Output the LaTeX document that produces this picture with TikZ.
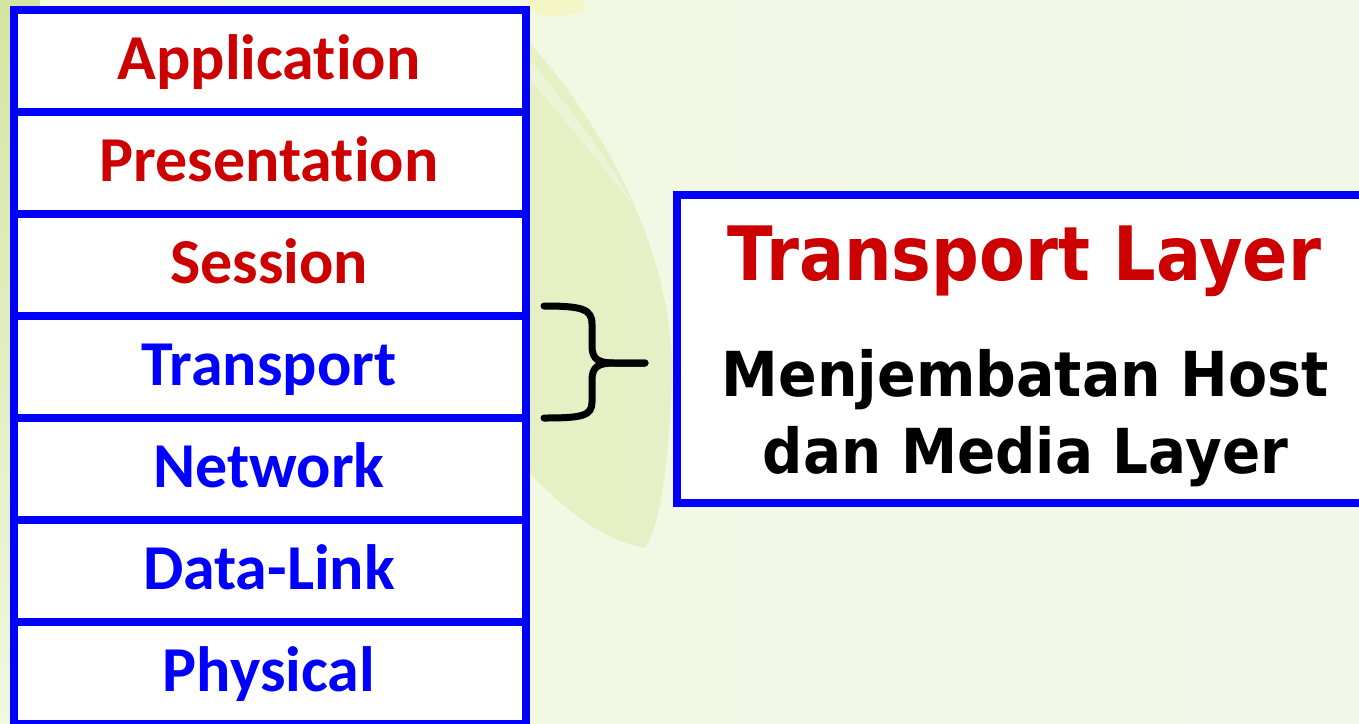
\documentclass[tikz,border=0pt]{standalone}
\usepackage{fontspec}
\usepackage{graphicx}
\setmainfont{Carlito}[Ligatures={NoCommon,NoContextual}]
\newfontfamily\headfont{DejaVu Sans}
\definecolor{layerblue}{HTML}{0000FF}
\definecolor{layerred}{HTML}{CC0000}
\definecolor{bgpale}{HTML}{F1F7E0}
\definecolor{bgcream}{HTML}{F4F8DE}
\definecolor{bgmint}{HTML}{F1F8EA}
\definecolor{leafgreen}{HTML}{DCEAAE}
\definecolor{leafedge}{HTML}{D3E5A2}
\tikzset{
  layerbox/.style={draw=layerblue, line width=8pt, fill=white,
    minimum width=512.5pt, minimum height=102pt, inner sep=0pt},
  layertext/.style={anchor=base, inner sep=0pt,
    font=\fontsize{64}{64}\selectfont\bfseries},
  infobox/.style={draw=layerblue, line width=8pt, fill=white,
    minimum width=698pt, minimum height=308pt, inner sep=0pt},
  infotext/.style={anchor=base, inner sep=0pt},
  brace/.style={draw=black, line width=7pt, line cap=round, line join=round}
}
\begin{document}
\begin{tikzpicture}[x=1pt,y=-1pt]
\useasboundingbox (0,0) rectangle (1359,723);
% pale slide background
\shade[left color=bgcream, right color=bgmint] (0,0) rectangle (1359,723);
\shade[top color=leafedge, bottom color=bgpale] (0,0) rectangle (40,723);
% soft leaf behind the layers
\fill[leafgreen, opacity=0.55]
  (527,40) .. controls (600,120) and (675,250) .. (672,380)
  .. controls (668,470) and (660,525) .. (645,548)
  .. controls (600,540) and (560,505) .. (527,470) -- cycle;
\fill[white, opacity=0.3]
  (530,60) .. controls (580,120) and (615,170) .. (632,205)
  .. controls (610,175) and (570,125) .. (530,80) -- cycle;
\fill[yellow!25!bgcream, opacity=0.5] (555,6) ellipse (30pt and 10pt);

% OSI layer stack
\foreach \nm/\txt/\col [count=\i] in {
    app/Application/layerred,
    pres/Presentation/layerred,
    sess/Session/layerred,
    trans/Transport/layerblue,
    net/Network/layerblue,
    dlink/Data-Link/layerblue,
    phys/Physical/layerblue}{
  \node[layerbox] (\nm) at (269.75, {9.5+102*(\i-0.5)}) {};
  \node[layertext, text=\col] (\nm-t) at (269, {9.5+102*(\i-1)+70}) {\txt};
}

% brace grouping the transport layer
\coordinate (bt) at (544,306);
\coordinate (bb) at (544,418);
\coordinate (tip) at (645,363);
\draw[brace] (bt) .. controls (582,306) and (592,309) .. (592,324)
  -- (592,346) .. controls (592,359) and (598,363) .. (614,363) -- (tip);
\draw[brace] (tip) -- (614,363) .. controls (598,363) and (592,367) .. (592,380)
  -- (592,402) .. controls (592,416) and (582,418) .. (bb);

% description box
\node[infobox] (info) at (1026,349) {};
\node[infotext, text=layerred] (info-title) at (1024.5,280)
  {\resizebox{593pt}{\height}{\headfont\fontsize{75}{75}\selectfont\bfseries Transport Layer}};
\node[infotext, text=black] (info-line1) at (1025.5,396.5)
  {\resizebox{607pt}{\height}{\headfont\fontsize{62}{62}\selectfont\bfseries Menjembatan Host}};
\node[infotext, text=black] (info-line2) at (1025.5,473)
  {\resizebox{525pt}{\height}{\headfont\fontsize{62}{62}\selectfont\bfseries dan Media Layer}};
\end{tikzpicture}
\end{document}
